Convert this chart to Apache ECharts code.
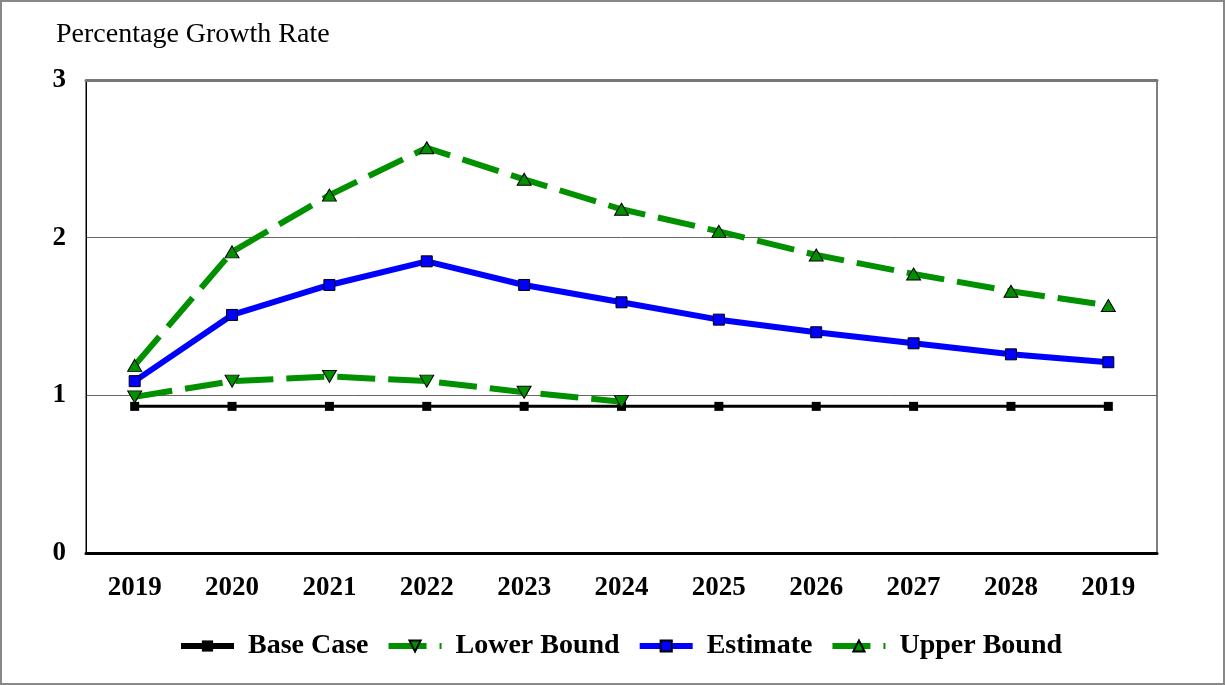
<!DOCTYPE html>
<html>
<head>
<meta charset="utf-8">
<script src="https://cdn.jsdelivr.net/npm/echarts@6/dist/echarts.min.js"></script>
<style>
html,body{margin:0;padding:0;background:#fff;}
#wrap{width:1225px;height:685px;box-sizing:border-box;border:2px solid #888;position:relative;}
#chart{position:absolute;left:-2px;top:-2px;width:1225px;height:685px;}
</style>
</head>
<body>
<div id="wrap"><div id="chart"></div></div>
<script>
const categories = ['2019','2020','2021','2022','2023','2024','2025','2026','2027','2028','2019'];
const baseCase   = [0.93,0.93,0.93,0.93,0.93,0.93,0.93,0.93,0.93,0.93,0.93];
const lowerBound = [0.99,1.09,1.12,1.09,1.02,0.96,null,null,null,null,null];
const estimate   = [1.09,1.51,1.70,1.85,1.70,1.59,1.48,1.40,1.33,1.26,1.21];
const upperBound = [1.19,1.91,2.27,2.57,2.37,2.18,2.04,1.89,1.77,1.66,1.57];
const yTicks = [0,1,2,3];

const FONT = '"Liberation Serif","Times New Roman",serif';
const GREEN = '#009000';

const chart = echarts.init(document.getElementById('chart'), null, {renderer:'canvas'});
chart.setOption({
  animation:false,
  backgroundColor:'transparent',
  title:{
    text:'Percentage Growth Rate',
    left:51, top:16,
    textStyle:{fontFamily:FONT,fontSize:28,fontWeight:'normal',color:'#000'}
  },
  grid:{left:86,right:68,top:80,bottom:132,show:true,borderColor:'#000',borderWidth:1,containLabel:false},
  legend:{
    bottom:20,
    left:173,
    itemWidth:53,
    itemHeight:14,
    itemGap:17,
    lineStyle:{width:6},
    textStyle:{fontFamily:FONT,fontSize:28,fontWeight:'bold',color:'#000',padding:[0,0,0,9]},
    data:['Base Case','Lower Bound','Estimate','Upper Bound']
  },
  xAxis:[{
    type:'category',
    data:categories,
    boundaryGap:true,
    axisLine:{show:true,lineStyle:{color:'#000',width:3}},
    axisTick:{show:false},
    axisLabel:{fontFamily:FONT,fontSize:27,fontWeight:'bold',color:'#000',margin:22,interval:0},
    splitLine:{show:false}
  },{
    type:'category',
    data:categories,
    position:'top',
    axisLine:{show:true,lineStyle:{color:'#777',width:3}},
    axisTick:{show:false},
    axisLabel:{show:false},
    splitLine:{show:false}
  }],
  yAxis:{
    type:'value',
    min:yTicks[0], max:yTicks[yTicks.length-1], interval:1,
    axisLine:{show:true,lineStyle:{color:'#000',width:1}},
    axisTick:{show:false},
    axisLabel:{fontFamily:FONT,fontSize:27,fontWeight:'bold',color:'#000',margin:20},
    splitLine:{show:true,lineStyle:{color:'#666',width:1}}
  },
  series:[
    {
      name:'Base Case', type:'line', data:baseCase,
      symbol:'rect', symbolSize:9,
      itemStyle:{color:'#000'},
      lineStyle:{color:'#000',width:3},
      z:2
    },
    {
      name:'Lower Bound', type:'line', data:lowerBound,
      symbol:'triangle', symbolSize:[14,12], symbolRotate:180,
      itemStyle:{color:GREEN,borderColor:'#000',borderWidth:1},
      lineStyle:{color:GREEN,width:6,type:[38,13]},
      connectNulls:false,
      z:3
    },
    {
      name:'Estimate', type:'line', data:estimate,
      symbol:'rect', symbolSize:11,
      itemStyle:{color:'#0000ff',borderColor:'#000',borderWidth:1},
      lineStyle:{color:'#0000ff',width:6},
      z:4
    },
    {
      name:'Upper Bound', type:'line', data:upperBound,
      symbol:'triangle', symbolSize:[14,12],
      itemStyle:{color:GREEN,borderColor:'#000',borderWidth:1},
      lineStyle:{color:GREEN,width:6,type:[38,13]},
      z:5
    }
  ]
});
</script>
</body>
</html>
